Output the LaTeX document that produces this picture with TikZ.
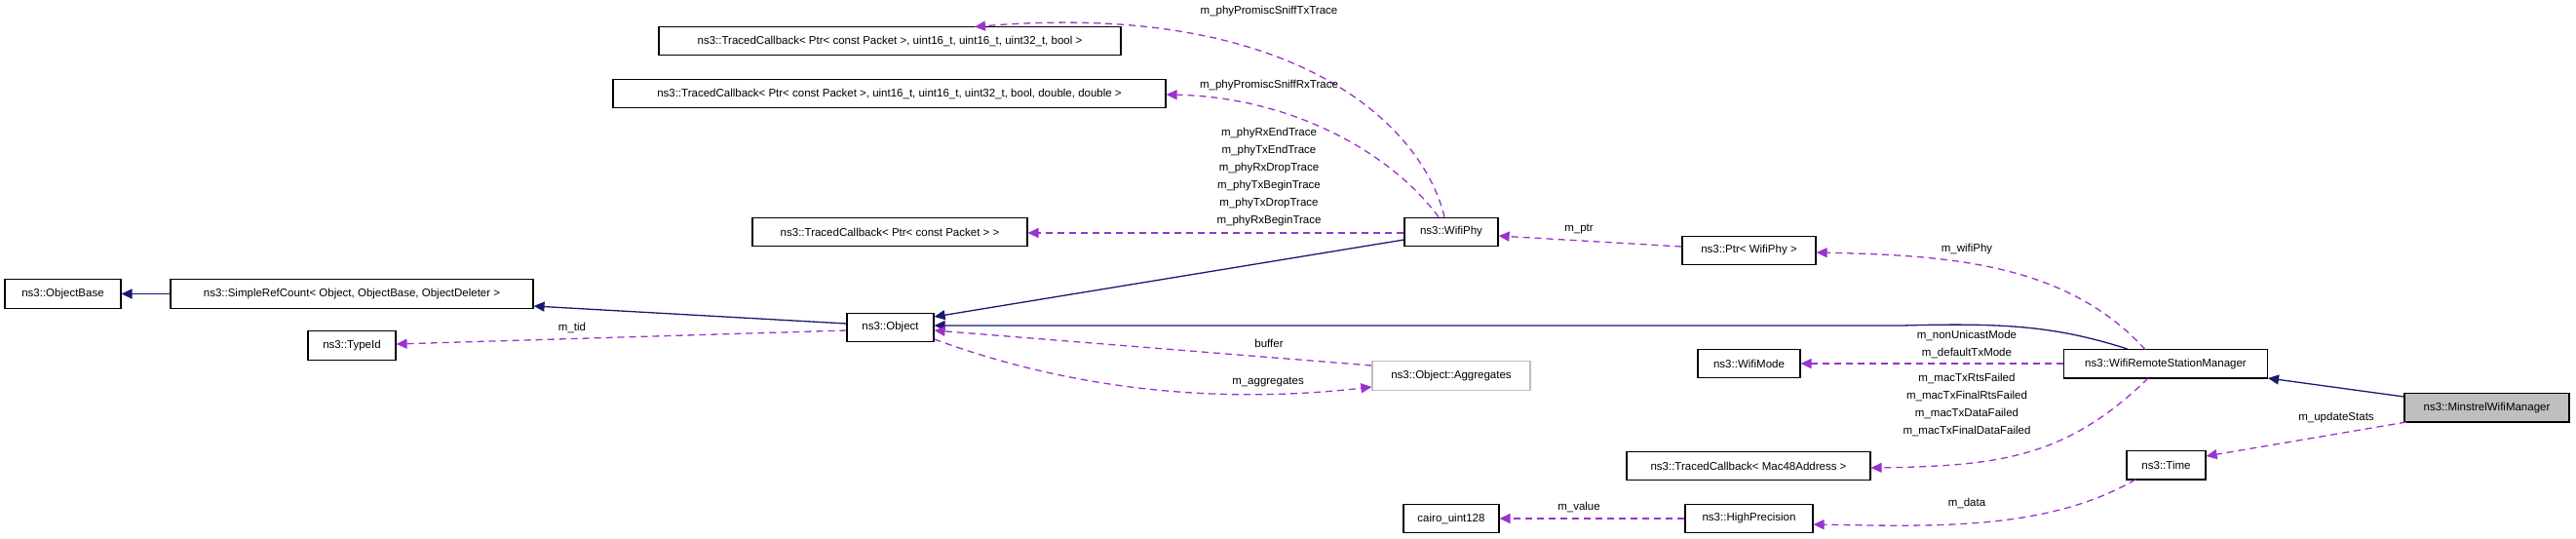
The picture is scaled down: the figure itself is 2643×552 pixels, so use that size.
\documentclass[tikz,border=0pt]{standalone}
\usepackage{fontspec}
\setmainfont{Liberation Sans}
\usetikzlibrary{arrows.meta}
\definecolor{inh}{HTML}{191970}
\definecolor{use}{HTML}{9A32CD}
\begin{document}
\begin{tikzpicture}[x=1pt,y=-1pt,
  font=\fontsize{11.5}{12}\selectfont,
  box/.style={draw=black,line width=1.2pt,fill=white,inner sep=0pt,minimum height=29.5pt},
  inh/.style={draw=inh,line width=1.3pt,-{Triangle[length=11pt,width=10pt]}},
  use/.style={draw=use,line width=1.3pt,dash pattern=on 7pt off 5pt,-{Triangle[length=11pt,width=10pt]}},
  lab/.style={inner sep=0pt}]
\useasboundingbox (0,0) rectangle (2643,552);
% nodes
\node[box,minimum width=474pt] (tc1) at (913,42) {ns3::TracedCallback< Ptr< const Packet >, uint16\_t, uint16\_t, uint32\_t, bool >};
\node[box,minimum width=567pt] (tc2) at (912.5,96) {ns3::TracedCallback< Ptr< const Packet >, uint16\_t, uint16\_t, uint32\_t, bool, double, double >};
\node[box,minimum width=282pt] (tc3) at (913,238) {ns3::TracedCallback< Ptr< const Packet > >};
\node[box,minimum width=119pt] (ob) at (64.5,301.5) {ns3::ObjectBase};
\node[box,minimum width=372pt] (src) at (361,301.5) {ns3::SimpleRefCount< Object, ObjectBase, ObjectDeleter >};
\node[box,minimum width=89pt] (obj) at (913.5,336) {ns3::Object};
\node[box,minimum width=90pt] (tid) at (361,354.5) {ns3::TypeId};
\node[box,minimum width=96pt] (phy) at (1489,238) {ns3::WifiPhy};
\node[box,minimum width=137pt] (ptr) at (1794.5,257) {ns3::Ptr< WifiPhy >};
\node[box,draw=gray!50,minimum width=162pt] (agg) at (1489,385.5) {ns3::Object::Aggregates};
\node[box,minimum width=105pt] (mode) at (1794.5,373) {ns3::WifiMode};
\node[box,minimum width=250pt] (mac) at (1794,478) {ns3::TracedCallback< Mac48Address >};
\node[box,minimum width=98pt] (cairo) at (1489,532) {cairo\_uint128};
\node[box,minimum width=131pt] (hp) at (1794.5,532) {ns3::HighPrecision};
\node[box,minimum width=209.5pt] (wrsm) at (2222,373.3) {ns3::WifiRemoteStationManager};
\node[box,fill=gray!50,minimum width=169pt] (min) at (2551.5,418.3) {ns3::MinstrelWifiManager};
\node[box,minimum width=81pt] (time) at (2222.5,477.2) {ns3::Time};
% inheritance
\draw[inh] (ob.east-|src.west) -- (ob.east);
\draw[inh] (obj.west|-0,332) -- (src.east|-0,314);
\draw[inh] (phy.west|-0,246) -- (obj.east|-0,325);
\draw[inh] (wrsm.north west)++(66,0) .. controls (2110,335) and (2060,331) .. (1951,334) -- (obj.east|-0,334);
\draw[inh] (min.west|-0,407) -- (2327,388);
% usage
\draw[use] (phy.north)++(-7,0) .. controls (1460,130) and (1330,0) .. (1000,27.5);
\node[lab] at (1302,12) {m\_phyPromiscSniffTxTrace};
\draw[use] (phy.north)++(-13,0) .. controls (1430,160) and (1330,100) .. (tc2.east|-0,97);
\node[lab] at (1302,88) {m\_phyPromiscSniffRxTrace};
\draw[use] (phy.west|-0,239) -- (tc3.east|-0,239);
\node[lab,align=center] at (1302,182) {m\_phyRxEndTrace\\[6pt]m\_phyTxEndTrace\\[6pt]m\_phyRxDropTrace\\[6pt]m\_phyTxBeginTrace\\[6pt]m\_phyTxDropTrace\\[6pt]m\_phyRxBeginTrace};
\draw[use] (ptr.west|-0,253) -- (phy.east|-0,242);
\node[lab] at (1620,235) {m\_ptr};
\draw[use] (obj.west|-0,339) -- (tid.east|-0,353);
\node[lab] at (587,336) {m\_tid};
\draw[use] (agg.west|-0,375) -- (obj.east|-0,339);
\node[lab] at (1302,352) {buffer};
\draw[use] (obj.east|-0,348) .. controls (1100,400) and (1250,415) .. (agg.west|-0,397);
\node[lab] at (1301,392) {m\_aggregates};
\draw[use] (2201,358.5) .. controls (2120,270) and (2000,262) .. (ptr.east|-0,259);
\node[lab] at (2018,256) {m\_wifiPhy};
\draw[use] (wrsm.west|-0,373) -- (mode.east|-0,373);
\node[lab,align=center] at (2018,353.5) {m\_nonUnicastMode\\[6pt]m\_defaultTxMode};
\draw[use] (2204,388) .. controls (2120,470) and (2050,478) .. (mac.east|-0,480);
\node[lab,align=center] at (2018,415) {m\_macTxRtsFailed\\[6pt]m\_macTxFinalRtsFailed\\[6pt]m\_macTxDataFailed\\[6pt]m\_macTxFinalDataFailed};
\draw[use] (2469,433) -- (time.east|-0,468);
\node[lab] at (2397,429) {m\_updateStats};
\draw[use] (2191,492) .. controls (2100,545) and (1980,540) .. (hp.east|-0,538);
\node[lab] at (2018,516) {m\_data};
\draw[use] (hp.west|-0,532) -- (cairo.east|-0,532);
\node[lab] at (1620,520) {m\_value};
\end{tikzpicture}
\end{document}
